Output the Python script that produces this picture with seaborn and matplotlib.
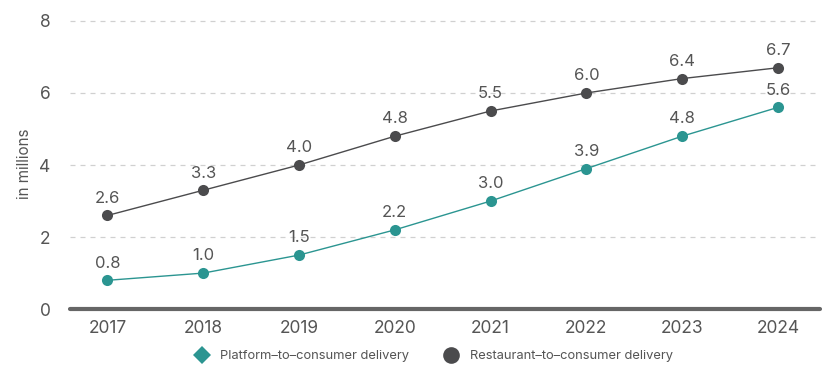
import matplotlib
matplotlib.use("Agg")
import matplotlib.pyplot as plt
from matplotlib.lines import Line2D
import seaborn as sns
import pandas as pd

years = ["2017", "2018", "2019", "2020", "2021", "2022", "2023", "2024"]
platform = [0.8, 1.0, 1.5, 2.2, 3.0, 3.9, 4.8, 5.6]
restaurant = [2.6, 3.3, 4.0, 4.8, 5.5, 6.0, 6.4, 6.7]
series_names = ["Platform\u2013to\u2013consumer delivery", "Restaurant\u2013to\u2013consumer delivery"]
y_ticks = [0, 2, 4, 6, 8]

sns.set_theme(style="white")
plt.rcParams["font.family"] = ["Inter", "DejaVu Sans"]

teal = "#2b9591"
dark = "#4b4b4d"
txt = "#555555"

df = pd.DataFrame({
    "idx": list(range(len(years))) * 2,
    "value": platform + restaurant,
    "series": [series_names[0]] * len(years) + [series_names[1]] * len(years),
})

fig = plt.figure(figsize=(8.25, 3.68), dpi=100)
ax = fig.add_axes([0.085, 0.16, 0.909, 0.788])

sns.lineplot(data=df, x="idx", y="value", hue="series", palette=[teal, dark],
             marker="o", markersize=8, markeredgewidth=0, linewidth=1.0,
             legend=False, ax=ax, zorder=3)

for vals, c in [(platform, teal), (restaurant, dark)]:
    for i, v in enumerate(vals):
        ax.annotate(f"{v:.1f}", (i, v), xytext=(0, 7), textcoords="offset points",
                    ha="center", va="bottom", fontsize=12, color=txt)

ax.set_xlim(-0.39, 7.44)
ax.set_ylim(0, 8.05)
ax.set_yticks(y_ticks)
ax.set_yticklabels([str(t) for t in y_ticks])
ax.set_xticks(range(len(years)))
ax.set_xticklabels(years)
ax.tick_params(axis="both", labelsize=12.5, colors=txt, length=0, pad=8)
ax.tick_params(axis="y", pad=14)
for t in y_ticks[1:]:
    ax.axhline(t, color="#d0d0d0", lw=0.9, ls=(0, (4, 4)), zorder=1)
ax.axhline(0, color="#666666", lw=3, zorder=2, clip_on=False)
for s in ax.spines.values():
    s.set_visible(False)
ax.set_xlabel("")
ax.set_ylabel("in millions", fontsize=11, color=txt, labelpad=5)

handles = [
    Line2D([], [], marker="D", color="none", markerfacecolor=teal, markeredgewidth=0, markersize=9),
    Line2D([], [], marker="o", color="none", markerfacecolor=dark, markeredgewidth=0, markersize=12),
]
fig.legend(handles, series_names, loc="center", bbox_to_anchor=(0.522, 0.032), ncol=2,
           frameon=False, fontsize=9.3, labelcolor=txt, handletextpad=0.4, columnspacing=2.3)

fig.savefig("out.png", dpi=100)
